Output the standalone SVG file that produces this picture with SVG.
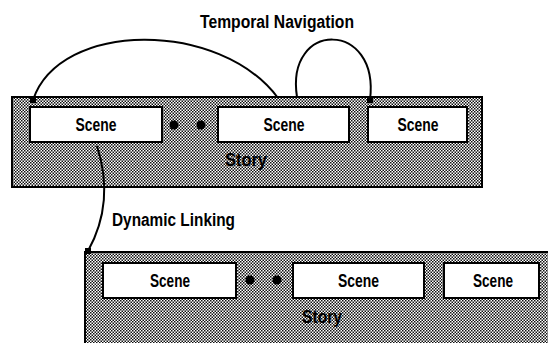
<svg xmlns="http://www.w3.org/2000/svg" width="548" height="343" viewBox="0 0 548 343">
  <defs>
    <pattern id="dots" width="3" height="3" patternUnits="userSpaceOnUse">
      <rect width="3" height="3" fill="#fff"/>
      <rect x="0" y="0" width="1.5" height="1.5" fill="#111"/>
      <rect x="1.5" y="1.5" width="1.5" height="1.5" fill="#111"/>
    </pattern>
    <marker id="sq" markerWidth="6" markerHeight="6" refX="3" refY="3" markerUnits="userSpaceOnUse">
      <rect width="6" height="6" fill="#000"/>
    </marker>
  </defs>
  <style>
    .story { fill: url(#dots); stroke: #000; stroke-width: 2; }
    .edge { fill: none; stroke: #000; stroke-width: 2; }
    .scene { fill: #fff; stroke: #000; stroke-width: 2; }
    .stxt { font-family: "Liberation Sans", Arial, sans-serif; font-weight: bold; font-size: 18px; fill: #000; text-anchor: middle; }
    .lbl { font-family: "Liberation Sans", Arial, sans-serif; font-weight: bold; font-size: 18px; fill: #000; }
    .conn { fill: none; stroke: #000; stroke-width: 2; }
    .dot { fill: #000; }
  </style>

  <g id="story-top">
    <rect class="story" x="12" y="97" width="470" height="90"/>
    <text class="stxt" x="246" y="166" textLength="42" lengthAdjust="spacingAndGlyphs">Story</text>
  </g>
  <g id="scene-top-1">
    <rect class="scene" x="30" y="107" width="132" height="35"/>
    <text class="stxt" x="96" y="131" textLength="41" lengthAdjust="spacingAndGlyphs">Scene</text>
  </g>
  <g id="dots-top">
    <circle class="dot" cx="174" cy="125" r="4.5"/>
    <circle class="dot" cx="201" cy="125" r="4.5"/>
  </g>
  <g id="scene-top-2">
    <rect class="scene" x="218" y="107" width="131" height="35"/>
    <text class="stxt" x="284" y="131" textLength="41" lengthAdjust="spacingAndGlyphs">Scene</text>
  </g>
  <g id="scene-top-3">
    <rect class="scene" x="368" y="107" width="99" height="35"/>
    <text class="stxt" x="418" y="131" textLength="41" lengthAdjust="spacingAndGlyphs">Scene</text>
  </g>

  <g id="story-bottom">
    <rect x="85" y="252" width="470" height="100" fill="url(#dots)"/>
    <path class="edge" d="M85,345 V252 H560"/>
    <text class="stxt" x="322" y="323" textLength="40" lengthAdjust="spacingAndGlyphs">Story</text>
  </g>
  <g id="scene-bottom-1">
    <rect class="scene" x="103" y="263" width="133" height="35"/>
    <text class="stxt" x="170" y="287" textLength="40" lengthAdjust="spacingAndGlyphs">Scene</text>
  </g>
  <g id="dots-bottom">
    <circle class="dot" cx="250" cy="280" r="4.5"/>
    <circle class="dot" cx="277" cy="280" r="4.5"/>
  </g>
  <g id="scene-bottom-2">
    <rect class="scene" x="293" y="263" width="131" height="35"/>
    <text class="stxt" x="358.5" y="287" textLength="41" lengthAdjust="spacingAndGlyphs">Scene</text>
  </g>
  <g id="scene-bottom-3">
    <rect class="scene" x="444" y="263" width="95" height="35"/>
    <text class="stxt" x="493" y="287" textLength="40" lengthAdjust="spacingAndGlyphs">Scene</text>
  </g>

  <g id="connectors">
    <path class="conn" d="M33,100 C60,20 220,20 278,98" marker-start="url(#sq)"/>
    <path class="conn" d="M297,97 C285,20 380,20 370,100" marker-end="url(#sq)"/>
    <path class="conn" d="M97,146 C108,180 108,215 88,251" marker-end="url(#sq)"/>
  </g>

  <g id="labels">
    <text class="lbl" x="200" y="28" textLength="154" lengthAdjust="spacingAndGlyphs">Temporal Navigation</text>
    <text class="lbl" x="112" y="226" textLength="123" lengthAdjust="spacingAndGlyphs">Dynamic Linking</text>
  </g>
</svg>
